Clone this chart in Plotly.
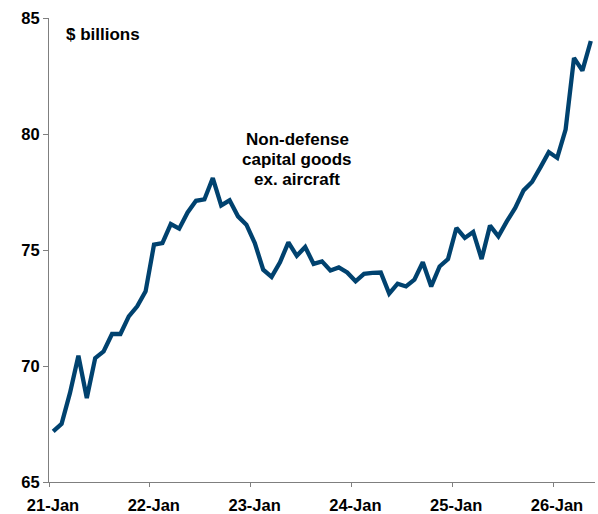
import plotly.graph_objects as go

# Monthly data, Jan 2021 .. May 2026 ($ billions)
months = [f"{y}-{m:02d}" for y in range(2021, 2027) for m in range(1, 13)][:65]
values = [
    67.18, 67.51, 68.84, 70.44, 68.62, 70.34, 70.63, 71.38, 71.38, 72.14, 72.57, 73.22,
    75.23, 75.30, 76.12, 75.92, 76.62, 77.12, 77.18, 78.10, 76.92, 77.14, 76.45, 76.09,
    75.30, 74.15, 73.84, 74.47, 75.33, 74.75, 75.13, 74.40, 74.51, 74.12, 74.25, 74.03,
    73.65, 73.97, 74.01, 74.03, 73.12, 73.55, 73.43, 73.72, 74.47, 73.43, 74.29, 74.61,
    75.95, 75.52, 75.78, 74.61, 76.05, 75.59, 76.23, 76.81, 77.57, 77.93, 78.56, 79.22,
    78.97, 80.19, 83.28, 82.73, 84.01,
]
x_tick_labels = ["21-Jan", "22-Jan", "23-Jan", "24-Jan", "25-Jan", "26-Jan"]
y_ticks = [65, 70, 75, 80, 85]
series_label_lines = ["Non-defense", "capital goods", "ex. aircraft"]

idx = list(range(len(values)))
jan_bounds = [i - 0.5 for i, m in enumerate(months) if m.endswith("-01")]

FONT = "Liberation Sans, Arial, sans-serif"
fig = go.Figure()
fig.add_trace(go.Scatter(
    x=idx, y=values, mode="lines",
    line=dict(color="#00426F", width=4.3),
    text=months, hovertemplate="%{text}: %{y:.2f}<extra></extra>",
    cliponaxis=False,
))

fig.update_layout(
    width=598, height=514,
    margin=dict(l=49, r=3, t=18, b=32),
    paper_bgcolor="white", plot_bgcolor="white",
    showlegend=False,
    font=dict(family=FONT, color="black"),
    xaxis=dict(
        range=[-0.5, len(values) - 0.5], automargin=False,
        tickvals=jan_bounds, ticktext=x_tick_labels,
        ticks="outside", ticklen=4, tickcolor="#7f7f7f", tickwidth=1,
        ticklabelshift=4, ticklabelstandoff=4,
        showline=True, linecolor="#7f7f7f", linewidth=1,
        showgrid=False, zeroline=False,
        tickfont=dict(family=FONT, size=16.5, weight="bold", color="black"),
    ),
    yaxis=dict(
        range=[65, 85], tickvals=y_ticks, automargin=False,
        ticks="outside", ticklen=5, tickcolor="#7f7f7f", tickwidth=1,
        showline=True, linecolor="#7f7f7f", linewidth=1,
        showgrid=False, zeroline=False,
        tickfont=dict(family=FONT, size=16.5, weight="bold", color="black"),
    ),
)

fig.add_annotation(
    x=0.028, y=84.3, xref="x domain", yref="y", xanchor="left", yanchor="middle",
    text="$ billions", showarrow=False,
    font=dict(family=FONT, size=17, weight="bold", color="black"),
)
for k, line in enumerate(series_label_lines):
    fig.add_annotation(
        x=0.455, y=79.77 - 0.86 * k, xref="x domain", yref="y",
        xanchor="center", yanchor="middle",
        text=line, showarrow=False,
        font=dict(family=FONT, size=17, weight="bold", color="black"),
    )

fig.write_html(
    "out.html",
    config={"displayModeBar": False},
    post_script="document.body.style.margin='0';document.body.style.overflow='hidden';",
)
